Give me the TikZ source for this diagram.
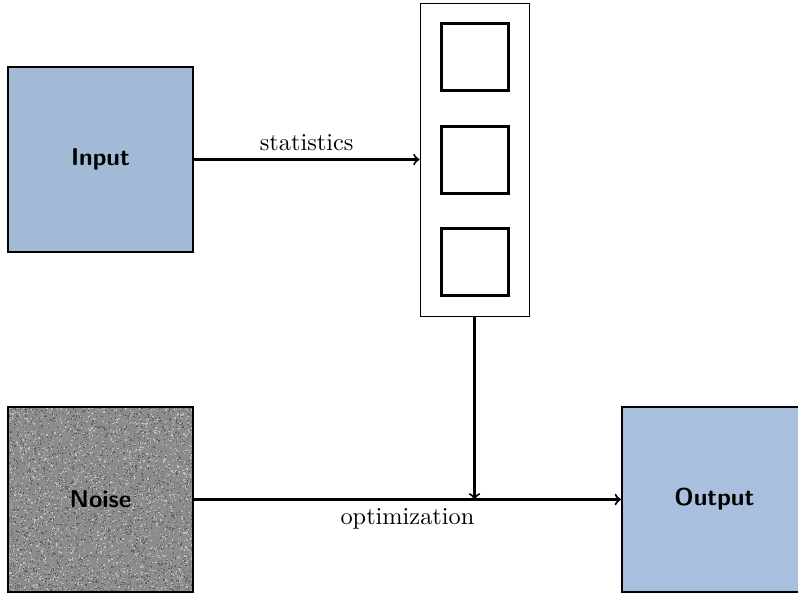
\documentclass[tikz,border=0pt]{standalone}
\usetikzlibrary{positioning,arrows}
\definecolor{inputblue}{RGB}{163,186,215}
\definecolor{outputblue}{RGB}{168,191,222}
\definecolor{noisegray}{RGB}{140,140,140}
\definecolor{noiselight}{RGB}{190,190,190}
\definecolor{noisedark}{RGB}{95,95,95}
\tikzset{
  >=to,
  every node/.style={font=\fontsize{10.7}{13}\selectfont},
  imgbox/.style={
    rectangle,
    draw=black, thick,
    minimum width=81.4pt,
    minimum height=81.4pt,
    font=\fontsize{10.7}{13}\selectfont\sffamily\bfseries},
  cell/.style={
    rectangle,
    draw=black, ultra thick,
    minimum width=29.5pt,
    minimum height=29.5pt},
  noisy/.style={
    fill=noisegray,
    path picture={
      \foreach \k in {1,...,2200} {
        \fill[noiselight] ([shift={(185*rnd,185*rnd)}]path picture bounding box.north west) rectangle +(1.2,1.2);
        \fill[noisedark] ([shift={(185*rnd,185*rnd)}]path picture bounding box.north west) rectangle +(1.2,1.2);
      }}},
  line/.style={draw, line width=0.9pt, ->},
}
\begin{document}
\begin{tikzpicture}
  [x=0.44pt, y=-0.44pt]
  \pgfmathsetseed{42}
  \useasboundingbox (0,0) rectangle (798,593);
    % image boxes
    \node[imgbox, fill=inputblue] (input) at (100.5,159.5) {Input};
    \node[imgbox, noisy] (noise) at (100.5,499.5) {Noise};
    \node[imgbox, fill=outputblue, anchor=west, minimum width=86pt] (output) at (621,499.5) {\hspace*{-4.6pt}Output};
    % statistics stack
    \node[draw, thin, minimum width=48pt, minimum height=137.7pt] (stats) at (474.5,159.5) {};
    \foreach \y/\name in {57/g1, 160/g2, 262/g3}
      \node[cell] (\name) at (475,\y) {};
    \coordinate (meet) at (stats.south |- noise.east);
  % arrows
  \path[line] (input.east) -- node[above] {statistics} (input.east -| stats.west);
  \path[line] (stats.south) -- (meet);
  \path[line] (noise.east) -- node[below] {optimization} (output.west);
\end{tikzpicture}
\end{document}
